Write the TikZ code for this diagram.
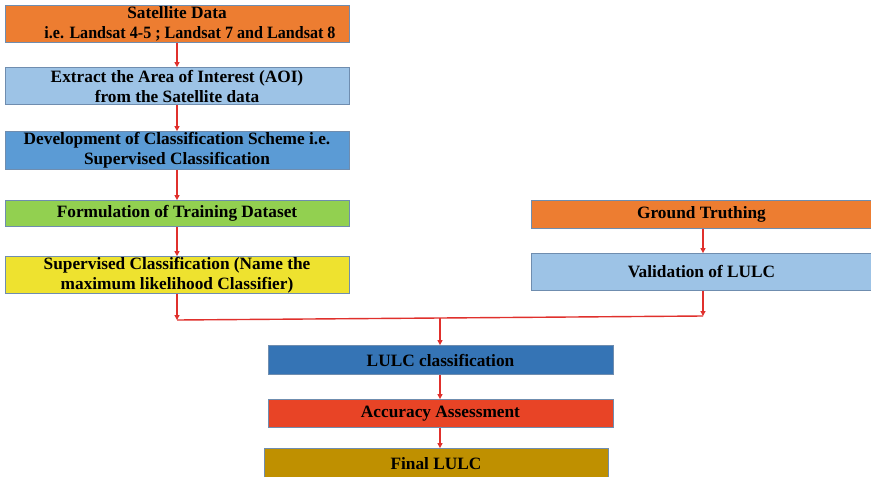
\documentclass[tikz,border=0pt]{standalone}
\usepackage{fontspec}
\setmainfont{Liberation Serif}
\usetikzlibrary{arrows.meta}
\definecolor{cOrange}{HTML}{ED7D31}
\definecolor{cLBlue}{HTML}{9DC3E6}
\definecolor{cMBlue}{HTML}{5B9BD5}
\definecolor{cGreen}{HTML}{92D050}
\definecolor{cYellow}{HTML}{EEE22F}
\definecolor{cDBlue}{HTML}{3574B5}
\definecolor{cRed}{HTML}{E84426}
\definecolor{cGold}{HTML}{BF9000}
\definecolor{cEdge}{HTML}{6F8DAF}
\definecolor{cArrow}{HTML}{E0302C}
\begin{document}
\begin{tikzpicture}[x=1pt,y=-1pt,
  box/.style={draw=cEdge,line width=0.8pt,inner sep=0pt,
    font=\fontsize{17.3}{20}\selectfont\bfseries,align=center},
  flow/.style={draw=cArrow,line width=1.4pt,-{Triangle[length=5pt,width=5pt]}},
  link/.style={draw=cArrow,line width=1.4pt}]
\useasboundingbox (0,0) rectangle (871,477);
\path[fill=white] (0,0) rectangle (871,477);
\def\mkbox#1#2#3#4#5#6#7{%
  \node[box,fill=#6,minimum width={#4-#2},minimum height={#5-#3}] (#1) at ({(#2+#4)/2},{(#3+#5)/2+0.5}) {#7};}
\mkbox{sat}{5}{5}{349}{42}{cOrange}{Satellite Data\\\hspace*{26pt}\scalebox{0.93}[1]{i.e. Landsat 4-5 ; Landsat 7 and Landsat 8}}
\mkbox{aoi}{5}{67}{349}{104}{cLBlue}{Extract the Area of Interest (AOI)\\from the Satellite data}
\mkbox{dev}{5}{131}{349}{169}{cMBlue}{Development of Classification Scheme i.e.\\Supervised Classification}
\mkbox{form}{5}{200}{349}{226}{cGreen}{Formulation of Training Dataset}
\mkbox{sup}{5}{256}{349}{293}{cYellow}{Supervised Classification (Name the\\maximum likelihood Classifier)}
\mkbox{gt}{531}{200}{872}{228}{cOrange}{Ground Truthing}
\mkbox{val}{531}{253}{872}{290}{cLBlue}{Validation of LULC}
\mkbox{lulc}{268}{345}{613}{374}{cDBlue}{LULC classification}
\mkbox{acc}{268}{399}{613}{427}{cRed}{Accuracy Assessment}
\mkbox{fin}{264}{448}{608}{478}{cGold}{Final LULC}
\coordinate (jl) at (177,320);
\coordinate (jr) at (703,316);
\coordinate (jm) at (440,318);
\draw[flow] (sat.south -| 177,0) -- (aoi.north -| 177,0);
\draw[flow] (aoi.south -| 177,0) -- (dev.north -| 177,0);
\draw[flow] (dev.south -| 177,0) -- (form.north -| 177,0);
\draw[flow] (form.south -| 177,0) -- (sup.north -| 177,0);
\draw[flow] (sup.south -| jl) -- (jl);
\draw[flow] (gt.south -| jr) -- (val.north -| jr);
\draw[flow] (val.south -| jr) -- (jr);
\draw[link] (jl) -- (jr);
\draw[flow] (jm) -- (lulc.north -| jm);
\draw[flow] (lulc.south -| jm) -- (acc.north -| jm);
\draw[flow] (acc.south -| jm) -- (fin.north -| jm);
\end{tikzpicture}
\end{document}
